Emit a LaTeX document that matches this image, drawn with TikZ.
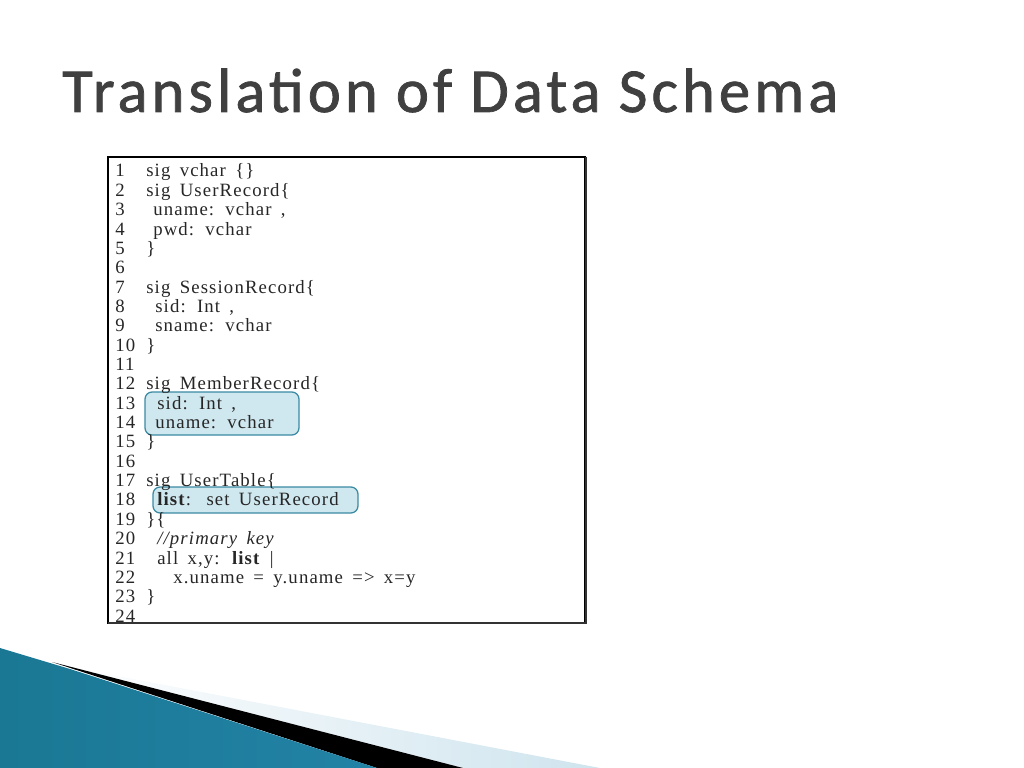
\documentclass[tikz,border=0pt]{standalone}
\usepackage{fontspec}
\setmainfont{Liberation Serif}
\newfontfamily\titlefont[LetterSpace=6.5,FakeBold=1.2]{Carlito}
\newfontfamily\codefont[LetterSpace=6,WordSpace=1.6]{Liberation Serif}
\usetikzlibrary{positioning}

\definecolor{titlegray}{HTML}{404040}
\definecolor{hlfill}{HTML}{CFE7EE}
\definecolor{hldraw}{HTML}{3A8AA3}
\definecolor{tealdark}{HTML}{1A7894}
\definecolor{teallight}{HTML}{4AB0D3}
\definecolor{tealend}{HTML}{2383A6}
\definecolor{paleblue}{HTML}{CFE4EE}

\tikzset{
  code/.style={anchor=base west,inner sep=0pt,font=\codefont\fontsize{13.2}{15}\selectfont,text=black!85},
  lineno/.style={code},
  hlbox/.style={fill=hlfill,draw=hldraw,line width=0.9pt,rounded corners=5pt}
}

\begin{document}
\begin{tikzpicture}[x=0.703125pt,y=-0.703125pt]
		\useasboundingbox (0,0) rectangle (1024,768);
		% title
		\node[anchor=base west,inner sep=0pt,text=titlegray,font=\titlefont\fontsize{44}{50}\selectfont] (title) at (62,112) {Translation of Data Schema};
		% highlighted fields
		\draw[hlbox] (145,392) rectangle (299,435);
		\draw[hlbox] (153,487) rectangle (358,513);
		% line numbers
		\foreach \i in {1,...,24}
			\node[lineno] (n\i) at (115,{177+(\i-1)*19.35}) {\i};
		% code
		\foreach \k/\x/\t in {1/146/{sig vchar \{\}},2/146/{sig UserRecord\{},3/153/{uname: vchar ,},4/153/{pwd: vchar},5/146/{\}},
			7/146/{sig SessionRecord\{},8/155/{sid: Int ,},9/155/{sname: vchar},10/146/{\}},
			12/146/{sig MemberRecord\{},13/157/{sid: Int ,},14/155/{uname: vchar},15/146/{\}},
			17/146/{sig UserTable\{},18/157/{\textbf{list}:\kern3pt{} set UserRecord},19/146/{\}\{},20/157/{\textit{//primary key}},
			21/157/{all x,y: \textbf{list} |},22/173/{x.uname = y.uname => x=y},23/146/{\}}}
			\node[code] (l\k) at (\x,{177+(\k-1)*19.35}) {\t};
		% frame
		\draw[line width=0.9pt] (108,157) rectangle (585,623);
		\draw[line width=1.6pt,black!80] (108,623) -- (586,623) -- (586,157);
		% bottom decoration
		\shade[left color=white,right color=paleblue] (60,665) -- (600,768) -- (463,768) -- cycle;
		\fill[black] (52,662) -- (463,768) -- (377,768) -- cycle;
		\shade[left color=tealdark,middle color=teallight,right color=tealend] (0,648) -- (70,669) -- (250,727) -- (377,768) -- (0,768) -- cycle;
		\end{tikzpicture}
\end{document}
